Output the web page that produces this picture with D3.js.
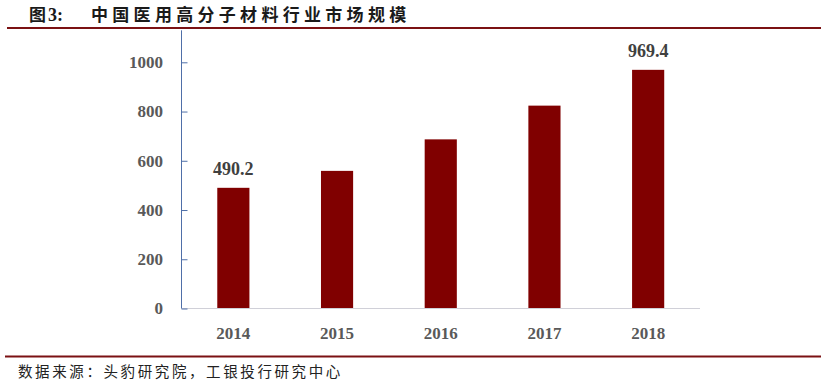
<!DOCTYPE html>
<html>
<head>
<meta charset="utf-8">
<script src="https://cdn.jsdelivr.net/npm/d3@7"></script>
<style>
  body { margin: 0; background: #fff; }
  svg { display: block; }
</style>
</head>
<body>
<svg id="chart" width="824" height="387"></svg>
<script>
// data
var years = ["2014", "2015", "2016", "2017", "2018"];
var values = [490.2, 559, 687, 824, 969.4];
var labelled = ["2014", "2018"];
var yTicks = [0, 200, 400, 600, 800, 1000];

var titleParts = ["图", "3:", "中国医用高分子材料行业市场规模"];
var source = "数据来源：头豹研究院，工银投行研究中心";

var svg = d3.select("#chart");
var serif = "'Liberation Serif', 'Times New Roman', serif";
var cjk = "'Noto Sans CJK SC', sans-serif";

// header: three pieces spaced like the original
var titleX = [29, 48, 91];
svg.selectAll("text.title")
  .data(titleParts)
  .enter()
  .append("text")
    .attr("class", "title")
    .attr("x", function(d, i){ return titleX[i]; })
    .attr("y", 21)
    .attr("font-family", serif + ", " + cjk)
    .attr("font-weight", "bold")
    .attr("font-size", function(d, i){ return i == 1 ? 18 : 17; })
    .attr("letter-spacing", function(d, i){ return i == 2 ? 4.3 : 0; })
    .attr("fill", "#1a1a1a")
    .text(function(d){ return d; });

svg.append("line")
  .attr("x1", 7).attr("x2", 821).attr("y1", 28).attr("y2", 28)
  .attr("stroke", "#7b1113").attr("stroke-width", 2.2);

svg.append("line")
  .attr("x1", 5).attr("x2", 821).attr("y1", 356.5).attr("y2", 356.5)
  .attr("stroke", "#7b1113").attr("stroke-width", 2);

svg.append("text")
  .attr("x", 18).attr("y", 377)
  .attr("font-family", cjk)
  .attr("font-size", 14.5)
  .attr("letter-spacing", 2.6)
  .attr("fill", "#222")
  .text(source);

// plot area
var x = d3.scaleBand().domain(years).range([181.5, 700]).paddingInner(0.69).paddingOuter(0.345);
var y = d3.scaleLinear().domain([0, 1000]).range([308.5, 62.3]);

var g = svg.append("g");

g.selectAll("rect.bar")
  .data(values)
  .enter()
  .append("rect")
    .attr("class", "bar")
    .attr("x", function(d, i){ return x(years[i]); })
    .attr("y", function(d){ return y(d); })
    .attr("width", x.bandwidth())
    .attr("height", function(d){ return y(0) - y(d); })
    .attr("fill", "#800000");

// x axis baseline
g.append("line")
  .attr("x1", 181.5).attr("x2", 700).attr("y1", y(0)).attr("y2", y(0))
  .attr("stroke", "#d0d0d8").attr("stroke-width", 1);

// y axis, ticks pointing into the plot
var yAxis = g.append("g")
  .attr("transform", "translate(181.5,0)")
  .call(d3.axisRight(y).tickValues(yTicks).tickSize(6).tickFormat(""));
yAxis.select(".domain").attr("stroke", "#4f6fa8").attr("d", "M0," + y(0) + "V" + (y(1000) - 32));
yAxis.selectAll(".tick line").attr("stroke", "#4f6fa8");

g.selectAll("text.ytick")
  .data(yTicks)
  .enter()
  .append("text")
    .attr("class", "ytick")
    .attr("x", 163)
    .attr("y", function(d){ return y(d); })
    .attr("dy", "0.35em")
    .attr("text-anchor", "end")
    .attr("font-family", serif)
    .attr("font-weight", "bold")
    .attr("font-size", 17)
    .attr("fill", "#595959")
    .text(function(d){ return d; });

g.selectAll("text.xtick")
  .data(years)
  .enter()
  .append("text")
    .attr("class", "xtick")
    .attr("x", function(d){ return x(d) + x.bandwidth() / 2; })
    .attr("y", 339)
    .attr("text-anchor", "middle")
    .attr("font-family", serif)
    .attr("font-weight", "bold")
    .attr("font-size", 17)
    .attr("fill", "#595959")
    .text(function(d){ return d; });

// value labels on first and last bar
g.selectAll("text.val")
  .data(values.filter(function(d, i){ return labelled.indexOf(years[i]) >= 0; }))
  .enter()
  .append("text")
    .attr("class", "val")
    .attr("x", function(d){ return x(years[values.indexOf(d)]) + x.bandwidth() / 2; })
    .attr("y", function(d){ return y(d) - 13; })
    .attr("text-anchor", "middle")
    .attr("font-family", serif)
    .attr("font-weight", "bold")
    .attr("font-size", 18)
    .attr("fill", "#404040")
    .text(function(d){ return d; });
</script>
</body>
</html>
